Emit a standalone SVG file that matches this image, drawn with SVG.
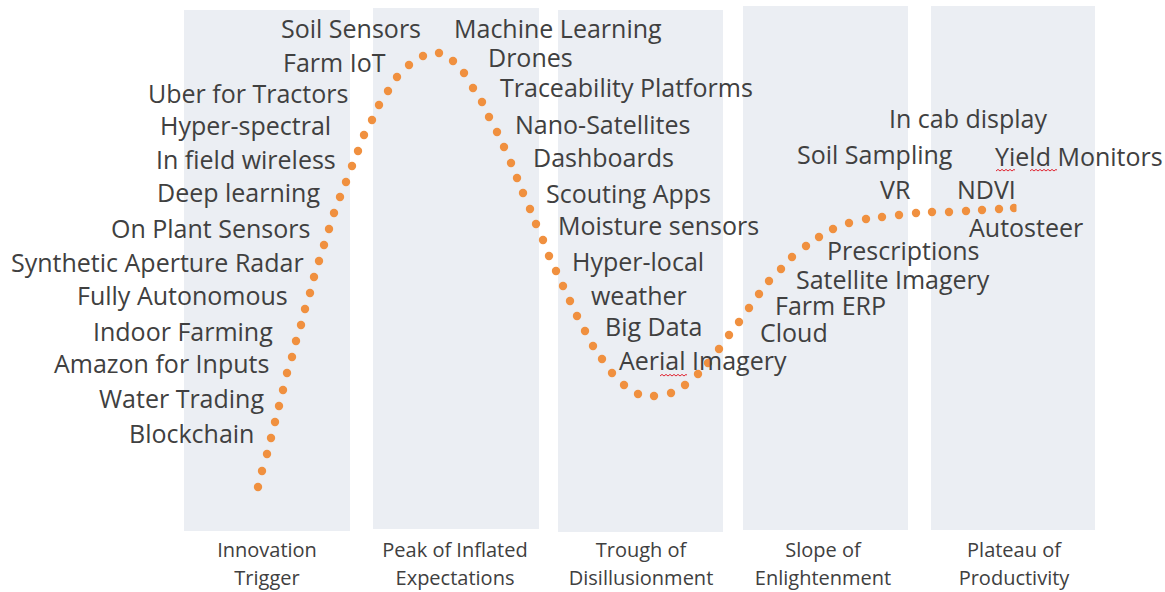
<svg xmlns="http://www.w3.org/2000/svg" width="1165" height="592" viewBox="0 0 1165 592">
<style>
.col{fill:#EBEEF3}
.lbl{font-family:"Open Sans","Noto Sans","Liberation Sans",sans-serif;font-size:25px;fill:#404040}
.ph{font-family:"Open Sans","Noto Sans","Liberation Sans",sans-serif;font-size:20px;fill:#404040;text-anchor:middle}
.dot{fill:#F0903F}
.sq{fill:none;stroke:#E02430;stroke-width:1}
</style>
<defs>
<clipPath id="endclip"><rect x="1000" y="200" width="16.5" height="20"/></clipPath>
</defs>
<rect width="1165" height="592" fill="#FFFFFF"/>
<g id="phases">
<g id="phase-innovation"><rect class="col" x="184" y="10" width="166" height="521"/><text class="ph" x="267" y="557">Innovation</text><text class="ph" x="267" y="585">Trigger</text></g>
<g id="phase-peak"><rect class="col" x="373" y="8" width="166" height="521"/><text class="ph" x="455" y="557">Peak of Inflated</text><text class="ph" x="455" y="585">Expectations</text></g>
<g id="phase-trough"><rect class="col" x="558" y="10" width="165" height="522"/><text class="ph" x="641" y="557">Trough of</text><text class="ph" x="641" y="585">Disillusionment</text></g>
<g id="phase-slope"><rect class="col" x="743" y="6" width="165" height="524"/><text class="ph" x="823" y="557">Slope of</text><text class="ph" x="823" y="585">Enlightenment</text></g>
<g id="phase-plateau"><rect class="col" x="931" y="6" width="164" height="524"/><text class="ph" x="1014" y="557">Plateau of</text><text class="ph" x="1014" y="585">Productivity</text></g>
</g>
<g id="curve">
<circle class="dot" r="4.2" cx="258" cy="487"/><circle class="dot" r="4.2" cx="262" cy="471"/><circle class="dot" r="4.2" cx="267" cy="454"/><circle class="dot" r="4.2" cx="271" cy="438"/><circle class="dot" r="4.2" cx="275" cy="422"/><circle class="dot" r="4.2" cx="279" cy="406"/><circle class="dot" r="4.2" cx="283" cy="390"/><circle class="dot" r="4.2" cx="287" cy="373"/><circle class="dot" r="4.2" cx="292" cy="357"/><circle class="dot" r="4.2" cx="296" cy="341"/><circle class="dot" r="4.2" cx="301" cy="325"/><circle class="dot" r="4.2" cx="305" cy="309"/><circle class="dot" r="4.2" cx="310" cy="293"/><circle class="dot" r="4.2" cx="314" cy="277"/><circle class="dot" r="4.2" cx="319" cy="261"/><circle class="dot" r="4.2" cx="324" cy="245"/><circle class="dot" r="4.2" cx="329" cy="229"/><circle class="dot" r="4.2" cx="334" cy="213"/><circle class="dot" r="4.2" cx="340" cy="197"/><circle class="dot" r="4.2" cx="346" cy="182"/><circle class="dot" r="4.2" cx="352" cy="166"/><circle class="dot" r="4.2" cx="358" cy="151"/><circle class="dot" r="4.2" cx="364" cy="135"/><circle class="dot" r="4.2" cx="372" cy="120"/><circle class="dot" r="4.2" cx="379" cy="105"/><circle class="dot" r="4.2" cx="388" cy="91"/><circle class="dot" r="4.2" cx="397" cy="77"/><circle class="dot" r="4.2" cx="409" cy="65"/><circle class="dot" r="4.2" cx="423" cy="56"/><circle class="dot" r="4.2" cx="439" cy="53"/><circle class="dot" r="4.2" cx="453" cy="61"/><circle class="dot" r="4.2" cx="464" cy="73"/><circle class="dot" r="4.2" cx="473" cy="88"/><circle class="dot" r="4.2" cx="482" cy="102"/><circle class="dot" r="4.2" cx="489" cy="117"/><circle class="dot" r="4.2" cx="497" cy="132"/><circle class="dot" r="4.2" cx="504" cy="147"/><circle class="dot" r="4.2" cx="511" cy="163"/><circle class="dot" r="4.2" cx="517" cy="178"/><circle class="dot" r="4.2" cx="523" cy="193"/><circle class="dot" r="4.2" cx="530" cy="209"/><circle class="dot" r="4.2" cx="536" cy="224"/><circle class="dot" r="4.2" cx="543" cy="240"/><circle class="dot" r="4.2" cx="549" cy="256"/><circle class="dot" r="4.2" cx="556" cy="271"/><circle class="dot" r="4.2" cx="563" cy="286"/><circle class="dot" r="4.2" cx="570" cy="301"/><circle class="dot" r="4.2" cx="577" cy="316"/><circle class="dot" r="4.2" cx="585" cy="331"/><circle class="dot" r="4.2" cx="593" cy="346"/><circle class="dot" r="4.2" cx="602" cy="359"/><circle class="dot" r="4.2" cx="612" cy="373"/><circle class="dot" r="4.2" cx="624" cy="385"/><circle class="dot" r="4.2" cx="638" cy="394"/><circle class="dot" r="4.2" cx="654" cy="396"/><circle class="dot" r="4.2" cx="671" cy="393"/><circle class="dot" r="4.2" cx="685" cy="385"/><circle class="dot" r="4.2" cx="698" cy="374"/><circle class="dot" r="4.2" cx="708" cy="363"/><circle class="dot" r="4.2" cx="719" cy="349"/><circle class="dot" r="4.2" cx="729" cy="335"/><circle class="dot" r="4.2" cx="739" cy="322"/><circle class="dot" r="4.2" cx="749" cy="308"/><circle class="dot" r="4.2" cx="759" cy="294"/><circle class="dot" r="4.2" cx="769" cy="281"/><circle class="dot" r="4.2" cx="781" cy="269"/><circle class="dot" r="4.2" cx="792" cy="257"/><circle class="dot" r="4.2" cx="806" cy="246"/><circle class="dot" r="4.2" cx="819" cy="237"/><circle class="dot" r="4.2" cx="833" cy="229"/><circle class="dot" r="4.2" cx="849" cy="223"/><circle class="dot" r="4.2" cx="866" cy="219"/><circle class="dot" r="4.2" cx="882" cy="217"/><circle class="dot" r="4.2" cx="899" cy="215"/><circle class="dot" r="4.2" cx="916" cy="213"/><circle class="dot" r="4.2" cx="932" cy="212"/><circle class="dot" r="4.2" cx="949" cy="212"/><circle class="dot" r="4.2" cx="966" cy="211"/><circle class="dot" r="4.2" cx="982" cy="210"/><circle class="dot" r="4.2" cx="999" cy="209"/><circle class="dot" r="4.2" cx="1014" cy="208" clip-path="url(#endclip)"/>
</g>
<g id="labels">
<text class="lbl" x="281" y="38">Soil Sensors</text>
<text class="lbl" x="283" y="72">Farm IoT</text>
<text class="lbl" x="148" y="103">Uber for Tractors</text>
<text class="lbl" x="160" y="135">Hyper-spectral</text>
<text class="lbl" x="156" y="169">In field wireless</text>
<text class="lbl" x="157" y="202">Deep learning</text>
<text class="lbl" x="111" y="238">On Plant Sensors</text>
<text class="lbl" x="11" y="272">Synthetic Aperture Radar</text>
<text class="lbl" x="77" y="305">Fully Autonomous</text>
<text class="lbl" x="93" y="341">Indoor Farming</text>
<text class="lbl" x="54" y="373">Amazon for Inputs</text>
<text class="lbl" x="99" y="408">Water Trading</text>
<text class="lbl" x="129" y="443">Blockchain</text>
<text class="lbl" x="454" y="38">Machine Learning</text>
<text class="lbl" x="488" y="67">Drones</text>
<text class="lbl" x="500" y="97">Traceability Platforms</text>
<text class="lbl" x="515" y="134">Nano-Satellites</text>
<text class="lbl" x="533" y="167">Dashboards</text>
<text class="lbl" x="546" y="203">Scouting Apps</text>
<text class="lbl" x="558" y="235">Moisture sensors</text>
<text class="lbl" x="572" y="271">Hyper-local</text>
<text class="lbl" x="591" y="305">weather</text>
<text class="lbl" x="605" y="336">Big Data</text>
<text class="lbl" x="619" y="370">Aerial Imagery</text>
<text class="lbl" x="889" y="128">In cab display</text>
<text class="lbl" x="797" y="164">Soil Sampling</text>
<text class="lbl" x="995" y="166">Yield Monitors</text>
<text class="lbl" x="880" y="199">VR</text>
<text class="lbl" x="957" y="199">NDVI</text>
<text class="lbl" x="969" y="237">Autosteer</text>
<text class="lbl" x="827" y="260">Prescriptions</text>
<text class="lbl" x="796" y="289">Satellite Imagery</text>
<text class="lbl" x="775" y="315">Farm ERP</text>
<text class="lbl" x="760" y="342">Cloud</text>
</g>
<g id="spellcheck">
<path class="sq" d="M660,376 l2,-1.6 l2,1.6 l2,-1.6 l2,1.6 l2,-1.6 l2,1.6 l2,-1.6 l2,1.6 l2,-1.6 l2,1.6 l2,-1.6 l2,1.6 l2,-1.6 l1,0.8"/>
<path class="sq" d="M996,171 l2,-1.6 l2,1.6 l2,-1.6 l2,1.6 l2,-1.6 l2,1.6 l2,-1.6 l2,1.6 l2,-1.6 l1,0.8"/>
<path class="sq" d="M1030,171 l2,-1.6 l2,1.6 l2,-1.6 l2,1.6 l2,-1.6 l2,1.6 l2,-1.6 l2,1.6 l2,-1.6 l2,1.6 l2,-1.6 l2,1.6 l2,-1.6 l1,0.8"/>
</g>
</svg>
